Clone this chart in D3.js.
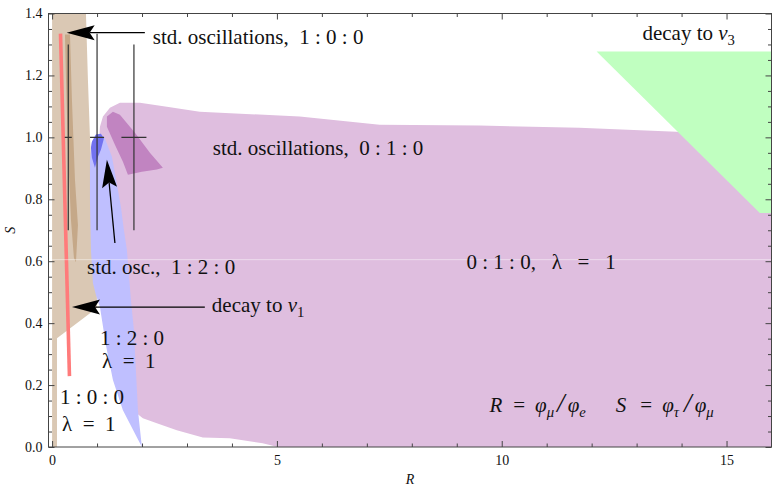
<!DOCTYPE html>
<html>
<head>
<meta charset="utf-8">
<script src="https://cdn.jsdelivr.net/npm/d3@7"></script>
<style>
body { margin: 0; background: #fff; }
text { font-family: "Liberation Serif", "DejaVu Serif", serif; fill: #111; white-space: pre; }
</style>
</head>
<body>
<div id="chart"></div>
<script>
/*------------------------------- data (R, S) -------------------------------*/

const tanRegion = [[0, 1.4], [0.753, 1.4], [0.797, 1.186], [0.842, 1.003], [0.908, 0.799], [0.953, 0.6],
    [0.997, 0.507], [0.997, 0.449], [0.109, 0.351], [0.109, 0], [0, 0]];
const tanCore = [[0.286, 1.332], [0.398, 1.332], [0.442, 1.119], [0.509, 0.863], [0.575, 0.716], [0.531, 0.597],
    [0.486, 0.61], [0.42, 0.732], [0.353, 0.959], [0.309, 1.186]];
const redBand = [[0.187, 1.335], [0.386, 0.229]];
const purpleRegion = [[1.064, 1.034], [1.131, 1.067], [1.286, 1.096], [1.508, 1.112], [1.953, 1.112], [2.552, 1.099],
    [3.285, 1.083], [5.507, 1.067], [7.284, 1.041], [9.505, 1.038], [11.726, 1.031], [13.881, 1.018], [16, 0.992],
    [16, 0], [5.02, 0], [4.684, 0.012], [3.951, 0.028], [3.352, 0.031], [2.774, 0.054], [2.33, 0.077], [2.019, 0.093],
    [1.797, 0.119], [1.7, 0.3], [1.55, 0.5], [1.4, 0.7], [1.25, 0.85], [1.1, 0.95], [1.05, 1.0]];
const purpleCore = [[1.219, 1.067], [1.353, 1.083], [1.508, 1.073], [1.842, 1.015], [2.175, 0.95], [2.464, 0.902],
    [2.33, 0.896], [1.997, 0.889], [1.686, 0.879], [1.575, 0.921], [1.397, 0.976], [1.219, 1.034]];
const blueRegion = [[0.886, 0.986], [0.975, 1.009], [1.086, 1.012], [1.175, 0.996], [1.331, 0.937], [1.397, 0.885],
    [1.464, 0.83], [1.531, 0.775], [1.597, 0.701], [1.664, 0.636], [1.708, 0.556], [1.753, 0.475], [1.82, 0.378],
    [1.864, 0.248], [1.909, 0.119], [1.997, 0], [1.575, 0.119], [1.353, 0.216], [1.197, 0.329], [1.064, 0.452],
    [0.975, 0.491], [0.908, 0.53], [0.864, 0.636], [0.842, 0.798], [0.842, 0.927]];
const blueCore = [[0.886, 0.986], [0.975, 1.009], [1.086, 1.012], [1.153, 0.996], [1.086, 0.96], [1.02, 0.937],
    [0.953, 0.902], [0.886, 0.934], [0.864, 0.967]];
const greenRegion = [[12.11, 1.277], [16, 1.277], [16, 0.756], [15.74, 0.756]];

// measured points with error bars
const pointR = [0.36, 1.0, 1.82];
const pointDR = [0.078, 0.156, 0.278];
const pointS = [1.0, 1.0, 1.0];
const pointLo = [0.7, 0.7, 0.7];
const pointHi = [1.3, 1.335, 1.3];

// arrows: tail -> tip
const arrowTail = [[2.063, 1.338], [1.397, 0.659], [3.397, 0.452]];
const arrowTip = [[0.324, 1.338], [1.219, 0.928], [0.442, 0.452]];

const xMajor = [0, 5, 10, 15];
const xMinor = d3.range(0, 17, 1);
const yMajor = [0, 0.2, 0.4, 0.6, 0.8, 1.0, 1.2, 1.4];
const yMinor = d3.range(0, 1.401, 0.05);

/*------------------------------- svg -------------------------------*/

const size = { width: 772, height: 487 };
const margin = { top: 13.5, right: 0.5, bottom: 40, left: 48.5 };

const svg = d3.select("#chart").append("svg")
    .attr("width", size.width).attr("height", size.height);

const x = d3.scaleLinear().domain([-0.08, 16]).range([margin.left, size.width - margin.right]);
const y = d3.scaleLinear().domain([0, 1.4]).range([size.height - margin.bottom, margin.top]);

const area = d3.line().x(d => x(d[0])).y(d => y(d[1]));

svg.append("defs").append("clipPath").attr("id", "plot")
    .append("rect")
    .attr("x", x(-0.08)).attr("y", y(1.4))
    .attr("width", x(16) - x(-0.08)).attr("height", y(0) - y(1.4));

const plot = svg.append("g").attr("clip-path", "url(#plot)");

const regions = [
    [tanRegion, "#dac8b4"],
    [tanCore, "#c5a888"],
    [purpleRegion, "#dfbedf"],
    [purpleCore, "#c184c1"],
    [blueRegion, "#bfbfff"],
    [blueCore, "#7272f0"],
    [greenRegion, "#c0ffc0"]
];
regions.forEach(r => {
    plot.append("path").attr("d", area(r[0]) + "Z").attr("fill", r[1]);
});

plot.append("path").attr("d", area(redBand))
    .attr("stroke", "#ff7b7b").attr("stroke-width", 3.6).attr("fill", "none");

// faint seam across the regions
plot.append("line")
    .attr("x1", x(0)).attr("x2", x(16))
    .attr("y1", y(0.605)).attr("y2", y(0.605))
    .attr("stroke", "rgba(255,255,255,0.45)").attr("stroke-width", 1);

// error bars
pointR.forEach((r, i) => {
    plot.append("line")
        .attr("x1", x(r)).attr("x2", x(r))
        .attr("y1", y(pointLo[i])).attr("y2", y(pointHi[i]))
        .attr("stroke", "#333").attr("stroke-width", 1.2);
    plot.append("line")
        .attr("x1", x(r - pointDR[i])).attr("x2", x(r + pointDR[i]))
        .attr("y1", y(pointS[i])).attr("y2", y(pointS[i]))
        .attr("stroke", "#333").attr("stroke-width", 1.2);
});

// arrows
arrowTail.forEach((t, i) => {
    const x1 = x(t[0]), y1 = y(t[1]);
    const x2 = x(arrowTip[i][0]), y2 = y(arrowTip[i][1]);
    const a = Math.atan2(y2 - y1, x2 - x1);
    const c = Math.cos(a), s = Math.sin(a);
    const L = 28, W = 7.5, N = 5;
    const bx = x2 - L * c, by = y2 - L * s;
    const nx = x2 - (L - N) * c, ny = y2 - (L - N) * s;
    svg.append("line")
        .attr("x1", x1).attr("y1", y1).attr("x2", nx).attr("y2", ny)
        .attr("stroke", "#000").attr("stroke-width", 1.3);
    svg.append("path")
        .attr("d", `M${x2},${y2}L${bx - W * s},${by + W * c}L${nx},${ny}L${bx + W * s},${by - W * c}Z`)
        .attr("fill", "#000");
});

/*------------------------------- frame & axes -------------------------------*/

svg.append("rect")
    .attr("x", x(-0.08)).attr("y", y(1.4))
    .attr("width", x(16) - x(-0.08)).attr("height", y(0) - y(1.4))
    .attr("fill", "none").attr("stroke", "#444").attr("stroke-width", 1);

const styleAxis = g => {
    g.select(".domain").remove();
    g.selectAll("line").attr("stroke", "#444");
    g.selectAll("text").attr("font-size", 14).attr("font-family", "Liberation Serif").attr("fill", "#222");
};

const minorX = xMinor.filter(v => !xMajor.includes(v));
const minorY = yMinor.filter(v => !yMajor.some(m => Math.abs(m - v) < 1e-6));

svg.append("g").attr("transform", `translate(0,${y(0)})`)
    .call(d3.axisBottom(x).tickValues(xMajor).tickSize(-6).tickPadding(8).tickFormat(d3.format("d")))
    .call(styleAxis);
svg.append("g").attr("transform", `translate(0,${y(0)})`)
    .call(d3.axisBottom(x).tickValues(minorX).tickSize(-3.5).tickFormat(""))
    .call(styleAxis);
svg.append("g").attr("transform", `translate(0,${y(1.4)})`)
    .call(d3.axisTop(x).tickValues(xMajor).tickSize(-6).tickFormat(""))
    .call(styleAxis);
svg.append("g").attr("transform", `translate(0,${y(1.4)})`)
    .call(d3.axisTop(x).tickValues(minorX).tickSize(-3.5).tickFormat(""))
    .call(styleAxis);

svg.append("g").attr("transform", `translate(${x(-0.08)},0)`)
    .call(d3.axisLeft(y).tickValues(yMajor).tickSize(-6).tickPadding(6).tickFormat(d3.format(".1f")))
    .call(styleAxis);
svg.append("g").attr("transform", `translate(${x(-0.08)},0)`)
    .call(d3.axisLeft(y).tickValues(minorY).tickSize(-3.5).tickFormat(""))
    .call(styleAxis);
svg.append("g").attr("transform", `translate(${x(16)},0)`)
    .call(d3.axisRight(y).tickValues(yMajor).tickSize(-6).tickFormat(""))
    .call(styleAxis);
svg.append("g").attr("transform", `translate(${x(16)},0)`)
    .call(d3.axisRight(y).tickValues(minorY).tickSize(-3.5).tickFormat(""))
    .call(styleAxis);

svg.append("text")
    .attr("x", (x(-0.08) + x(16)) / 2).attr("y", 484)
    .attr("text-anchor", "middle").attr("font-size", 14).attr("font-style", "italic")
    .text("R");
svg.append("text")
    .attr("transform", `translate(15,${(y(0) + y(1.4)) / 2}) rotate(-90)`)
    .attr("text-anchor", "middle").attr("font-size", 14).attr("font-style", "italic")
    .text("S");

/*------------------------------- annotations -------------------------------*/

// parts: [text, style, dx]
const notes = [
    { r: 2.241, s: 1.30, parts: [["std. oscillations,  1 : 0 : 0"]] },
    { r: 13.13, s: 1.316, parts: [["decay to "], ["ν", "i"], ["3", "sub"]] },
    { r: 3.574, s: 0.944, parts: [["std. oscillations,  0 : 1 : 0"]] },
    { r: 0.777, s: 0.558, parts: [["std. osc.,  1 : 2 : 0"]] },
    { r: 3.553, s: 0.435, parts: [["decay to "], ["ν", "i"], ["1", "sub"]] },
    { r: 1.064, s: 0.329, parts: [["1 : 2 : 0"]] },
    { r: 1.11, s: 0.255, parts: [["λ  =  1"]] },
    { r: 0.175, s: 0.138, parts: [["1 : 0 : 0"]] },
    { r: 0.22, s: 0.051, parts: [["λ  =  1"]] },
    { r: 9.216, s: 0.575, parts: [["0 : 1 : 0,   λ   =   1"]] },
    { r: 9.727, s: 0.112, parts: [
        ["R", "i"], ["=", "", 11], ["φ", "i", 10], ["μ", "isub"], ["/", "big", 3], ["φ", "i", 3], ["e", "isub"],
        ["S", "i", 30], ["=", "", 14], ["φ", "i", 10], ["τ", "isub"], ["/", "big", 5], ["φ", "i", 3], ["μ", "isub"]] }
];

const fontSize = 21;
notes.forEach(n => {
    const t = svg.append("text").attr("x", x(n.r)).attr("y", y(n.s)).attr("font-size", fontSize);
    let shift = 0;
    n.parts.forEach(p => {
        const style = p[1] || "";
        const isSub = style.includes("sub");
        const target = isSub ? 5 : 0;
        const ts = t.append("tspan").text(p[0]).attr("dy", target - shift);
        shift = target;
        if (p[2]) ts.attr("dx", p[2]);
        if (style.startsWith("i")) ts.attr("font-style", "italic");
        if (isSub) ts.attr("font-size", fontSize * 0.7);
        if (style === "big") ts.attr("font-size", fontSize * 1.3).attr("font-style", "italic");
    });
});
</script>
</body>
</html>
